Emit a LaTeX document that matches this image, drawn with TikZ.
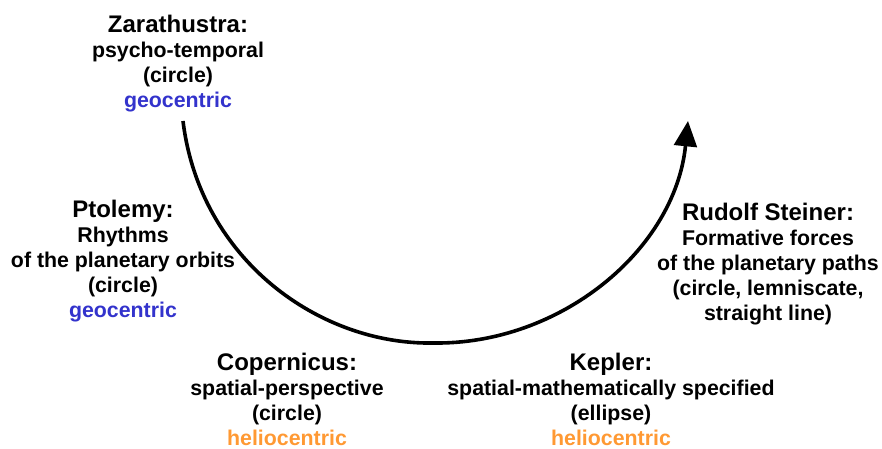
\documentclass[tikz,border=0pt]{standalone}
\usepackage{fontspec}
\setmainfont{Liberation Sans}
\usetikzlibrary{positioning, arrows.meta}
\definecolor{geoblue}{RGB}{51,51,204}
\definecolor{helioorange}{RGB}{255,153,51}
\tikzset{
    stage/.style={align=center, anchor=north, inner sep=0pt, font=\bfseries\fontsize{16}{18.75}\selectfont},
    path/.style={-{Triangle[length=19pt, width=17pt]}, line width=2.7pt}
}
\newcommand{\stagehead}[1]{{\fontsize{18}{18}\selectfont #1}}
\newcommand{\geo}{\textcolor{geoblue}{geocentric}}
\newcommand{\helio}{\textcolor{helioorange}{heliocentric}}

\begin{document}
\begin{tikzpicture}[x=0.75pt, y=-0.75pt]
        \useasboundingbox (0,0) rectangle (882,449);
        % === Stages ===
        \node[stage] (zara) at (178,15) {\stagehead{Zarathustra:}\\ psycho-temporal\\ (circle)\\ \geo};
        \node[stage] (ptol) at (123,200) {\stagehead{Ptolemy:}\\ Rhythms\\ of the planetary orbits\\ (circle)\\ \geo};
        \node[stage] (cope) at (287,353) {\stagehead{Copernicus:}\\ spatial-perspective\\ (circle)\\ \helio};
        \node[stage] (kepl) at (611,353) {\stagehead{Kepler:}\\ spatial-mathematically specified\\ (ellipse)\\ \helio};
        \node[stage] (stei) at (768,203) {\stagehead{Rudolf Steiner:}\\ Formative forces\\ of the planetary paths\\ (circle, lemniscate,\\ straight line)};
        
        % === Path of development ===
        \coordinate (start) at (183,121);
        \coordinate (low) at (433,343);
        \coordinate (end) at (688,121);
        \draw[path] (start) .. controls (200,260) and (320,345) .. (low)
            .. controls (560,345) and (675,250) .. (end);
    \end{tikzpicture}
\end{document}
